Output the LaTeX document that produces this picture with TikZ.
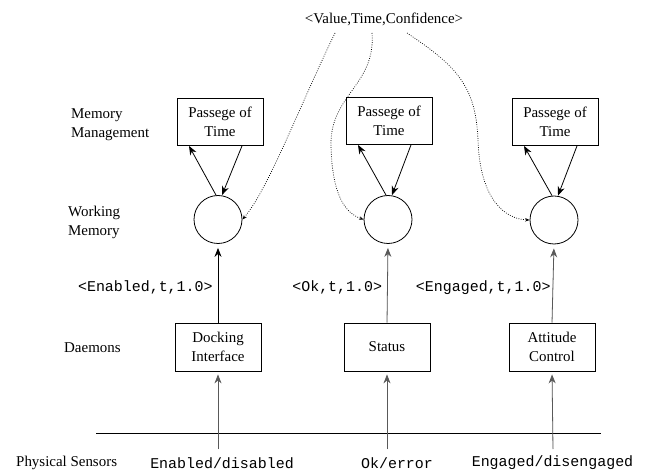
\documentclass[tikz,border=0pt]{standalone}
\usepackage{fontspec}
\setmainfont{Liberation Serif}
\setmonofont{Liberation Mono}
\usetikzlibrary{arrows.meta}
\begin{document}
\begin{tikzpicture}[x=1bp,y=-1bp,
  every node/.style={font=\fontsize{15}{19}\selectfont, inner sep=0pt},
  box/.style={draw, line width=0.8bp, minimum width=86bp, minimum height=47bp, align=center},
  mem/.style={draw, circle, line width=0.8bp, minimum size=48bp},
  lvl/.style={align=left, anchor=west},
  tt/.style={font=\fontsize{15}{19}\selectfont\ttfamily},
  link/.style={line width=0.8bp, -{Stealth[length=9bp,width=7bp]}},
  feed/.style={link, draw=black!65, fill=black!65},
  hint/.style={line width=0.7bp, dash pattern=on 0.8bp off 1.5bp, -{Stealth[length=4.5bp,width=3.5bp]}}]
\useasboundingbox (0,0) rectangle (646,471);

% level names
\node[lvl] (lmm) at (71,124.5) {Memory\\Management};
\node[lvl] (lwm) at (68,222) {Working\\Memory};
\node[lvl] (ldm) at (64,348) {Daemons};
\node[lvl] (lps) at (16,463) {Physical Sensors};

% tuple format
\node (tuple) at (384,19) {<Value,Time,Confidence>};
\coordinate (v1) at (335,33);
\coordinate (v2) at (372,33);
\coordinate (v3) at (407,33);

% memory management
\node[box] (p1) at (220,122) {Passege of\\Time};
\node[box] (p2) at (389,121) {Passege of\\Time};
\node[box] (p3) at (555,122) {Passege of\\Time};

% working memory
\node[mem] (c1) at (218,219.5) {};
\node[mem] (c2) at (388,219.5) {};
\node[mem] (c3) at (554,220) {};

% daemons
\node[box, minimum height=48bp] (d1) at (218,347) {Docking\\Interface};
\node[box, minimum height=48bp] (d2) at (387,347) {Status};
\node[box, minimum height=48bp] (d3) at (552,347) {Attitude\\Control};

% sensor bus
\coordinate (gl) at (96,433);
\coordinate (gr) at (601,433);
\draw[line width=0.8bp] (gl) -- (gr);
\coordinate (s1) at (218,449);
\coordinate (s2) at (387,449);
\coordinate (s3) at (553,449);
\node[tt] (t1) at (222,463) {Enabled/disabled};
\node[tt] (t2) at (397,463) {Ok/error};
\node[tt] (t3) at (552.5,463) {Engaged/disengaged};

% sensors to daemons
\draw[feed, shorten >=3bp] (s1) -- (d1.south);
\draw[feed, shorten >=3bp] (s2) -- (d2.south);
\draw[feed, shorten >=3bp] (s3) -- (d3.south);

% daemons to working memory
\draw[link, shorten >=4bp] (d1.north) -- node[tt, pos=0.45, anchor=east, xshift=-5bp] {<Enabled,t,1.0>} (c1.south);
\draw[feed, shorten >=4bp] (d2.north) -- node[tt, pos=0.45, anchor=east, xshift=-5bp, text=black] {<Ok,t,1.0>} (c2.south);
\draw[feed, shorten >=4bp] (d3.north) -- node[tt, pos=0.45, anchor=east, xshift=-2bp, text=black] {<Engaged,t,1.0>} (c3.south);

% working memory <-> passage of time
\foreach \i in {1,2,3} {
  \draw[link] ([xshift=-2bp]c\i.north) -- ([xshift=-31bp]p\i.south);
  \draw[link] ([xshift=22bp]p\i.south) -- ([xshift=4bp]c\i.north);
}

% tuples flowing into working memory
\draw[hint] (v1) .. controls (300,105) and (268,190) .. (c1.east);
\draw[hint] (v2) .. controls (376,85) and (330,95) .. (331,145)
                 .. controls (332,195) and (345,213) .. (c2.west);
\draw[hint] (v3) .. controls (455,65) and (476,85) .. (478,140)
                 .. controls (480,200) and (505,219) .. (c3.west);
\end{tikzpicture}
\end{document}
